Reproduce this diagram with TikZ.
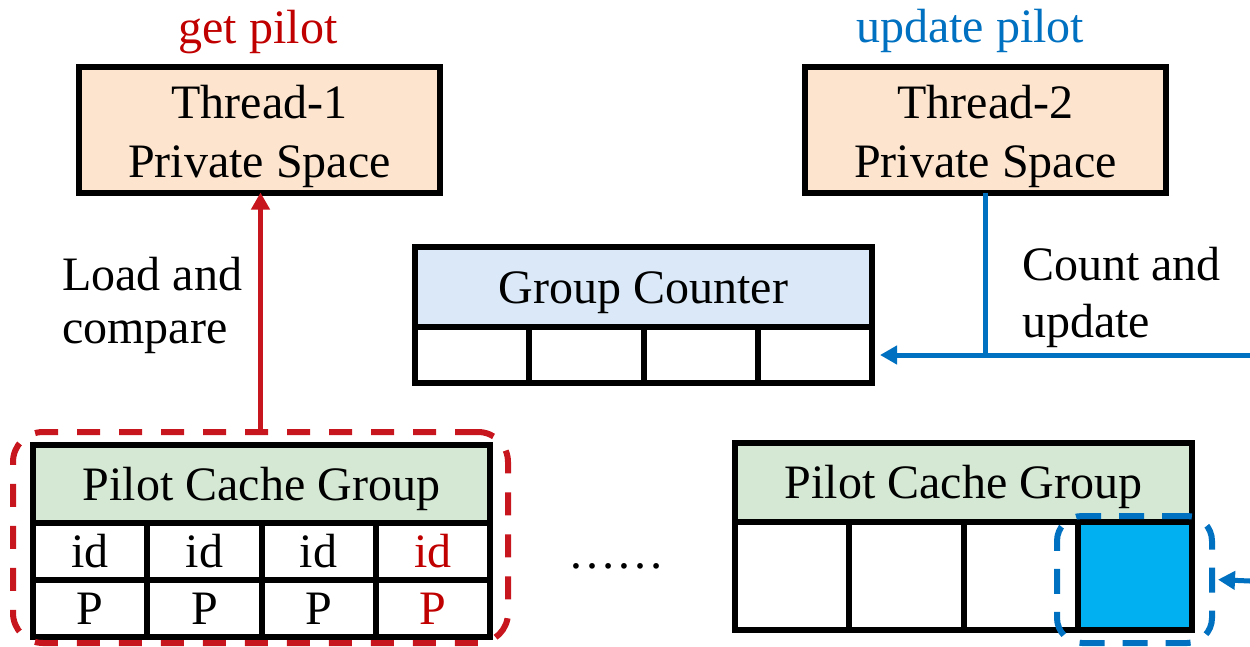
\documentclass[tikz,border=0pt]{standalone}
\usepackage{fontspec}
\setmainfont{Liberation Serif}
\usetikzlibrary{arrows.meta}
\definecolor{peach}{HTML}{FCE4CE}
\definecolor{lblue}{HTML}{DAE8F7}
\definecolor{lgreen}{HTML}{D5E8D4}
\definecolor{cyanf}{HTML}{00B0F0}
\definecolor{myred}{HTML}{C8161E}
\definecolor{tred}{HTML}{C00000}
\definecolor{myblue}{HTML}{0070C0}
\begin{document}
\begin{tikzpicture}[x=1pt,y=-1pt,
  bigfont/.style={font=\fontsize{48}{58}\selectfont},
  box/.style={draw=black, line width=6pt, inner sep=0pt, outer sep=0pt, bigfont,
    text height=34pt, text depth=2pt},
  thread/.style={box, fill=peach, minimum width=361pt, minimum height=126pt},
  header/.style={box, minimum width=457pt},
  cell/.style={box, fill=white, minimum width=114.25pt},
  txt/.style={inner sep=0pt, bigfont, anchor=base},
  ltxt/.style={txt, anchor=base west},
  redline/.style={draw=myred, line width=5.5pt},
  blueline/.style={draw=myblue, line width=5pt},
  tip/.style={-{Triangle[width=18pt,length=17pt]}},
  reddash/.style={draw=myred, line width=6pt, dash pattern=on 23pt off 19pt, rounded corners=30pt, inner sep=0pt},
  bluedash/.style={draw=myblue, line width=6pt, dash pattern=on 25pt off 18pt, rounded corners=25pt, inner sep=0pt}
]
\useasboundingbox (0,0) rectangle (1250,646);

% top titles
\node[txt, text=tred] (gp) at (258,43) {get pilot};
\node[txt, text=myblue] (up) at (970,42) {update pilot};

% thread boxes
\node[thread] (t1) at (259.5,129.5) {};
\node[txt] (t1a) at (259.5,118) {Thread-1};
\node[txt] (t1b) at (259.5,177) {Private Space};
\node[thread] (t2) at (985.5,129.5) {};
\node[txt] (t2a) at (985.5,118) {Thread-2};
\node[txt] (t2b) at (985.5,177) {Private Space};

% side labels
\node[ltxt] (lc1) at (62,290) {Load and};
\node[ltxt] (lc2) at (62,343) {compare};
\node[ltxt] (cu1) at (1022,280) {Count and};
\node[ltxt] (cu2) at (1022,337) {update};

% group counter
\node[header, fill=lblue, minimum height=80pt] (gc) at (643.5,287) {Group Counter};
\node[cell, minimum height=56pt] (gc1) at (472.125,355) {};
\node[cell, minimum height=56pt] (gc2) at (586.375,355) {};
\node[cell, minimum height=56pt] (gc3) at (700.625,355) {};
\node[cell, minimum height=56pt] (gc4) at (814.875,355) {};

% left pilot cache group
\node[header, fill=lgreen, minimum height=78pt] (lp) at (261.5,484) {Pilot Cache Group};
\node[cell, minimum height=57pt] (li1) at (90.125,551.5) {id};
\node[cell, minimum height=57pt] (li2) at (204.375,551.5) {id};
\node[cell, minimum height=57pt] (li3) at (318.625,551.5) {id};
\node[cell, minimum height=57pt, text=tred] (li4) at (432.875,551.5) {id};
\node[cell, minimum height=57pt] (lq1) at (90.125,608.5) {P};
\node[cell, minimum height=57pt] (lq2) at (204.375,608.5) {P};
\node[cell, minimum height=57pt] (lq3) at (318.625,608.5) {P};
\node[cell, minimum height=57pt, text=tred] (lq4) at (432.875,608.5) {P};

% dots
\node[txt] (dots) at (616,568) {……};

% right pilot cache group
\node[header, fill=lgreen, minimum height=79pt] (rp) at (963.5,482.5) {Pilot Cache Group};
\node[cell, minimum height=108pt] (rc1) at (792.125,576) {};
\node[cell, minimum height=108pt] (rc2) at (906.375,576) {};
\node[cell, minimum height=108pt] (rc3) at (1020.625,576) {};
\node[cell, minimum height=108pt, fill=cyanf] (rc4) at (1134.875,576) {};

% dashed highlight boxes
\node[reddash, minimum width=495pt, minimum height=211pt] (rd) at (260.5,537.5) {};
\node[bluedash, minimum width=155pt, minimum height=127pt] (bd) at (1134.5,579.5) {};

% connectors
\draw[redline, tip] (rd.north) -- (rd.north |- t1.south);
\coordinate (cr) at (1250,355);
\coordinate (br) at (1250,581);
\draw[blueline] (t2.south) -- (t2.south |- gc4.east);
\draw[blueline, tip, shorten >=8pt] (cr) -- (gc4.east);
\draw[blueline, tip, shorten >=3pt] (br) -- (bd.east);
\end{tikzpicture}
\end{document}
